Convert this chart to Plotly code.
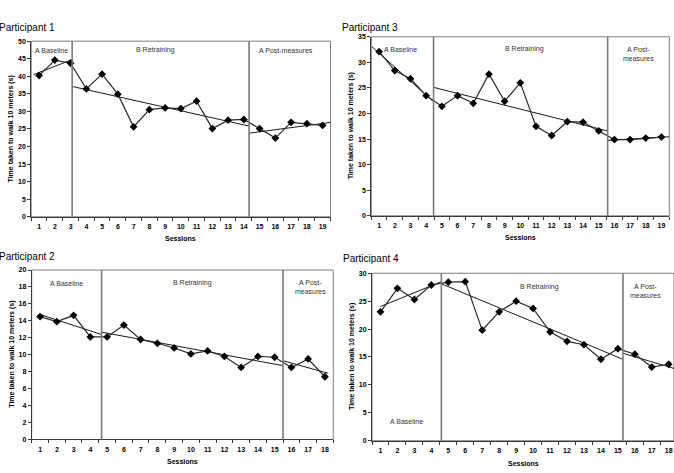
import numpy as np
import plotly.graph_objects as go

W, H = 674, 473

# ---------------- data ----------------
p1_sessions = list(range(1, 20))
p1_times = [40.2, 44.6, 43.7, 36.4, 40.6, 34.9, 25.6, 30.5, 31.0, 30.8,
            32.9, 25.1, 27.5, 27.7, 25.1, 22.4, 26.9, 26.5, 26.0]
p1_phase_end = [3, 14, 19]          # last session of each phase
p1_dividers = [3.1, 14.33]
p1_trend_span = [0.64, 19.57]

p3_sessions = list(range(1, 20))
p3_times = [32.1, 28.4, 26.8, 23.5, 21.4, 23.5, 22.0, 27.7, 22.4, 26.0,
            17.5, 15.7, 18.4, 18.3, 16.6, 14.9, 14.9, 15.2, 15.4]
p3_phase_end = [4, 15, 19]
p3_dividers = [4.47, 15.57]
p3_trend_span = [0.54, 19.5]

p2_sessions = list(range(1, 19))
p2_times = [14.5, 13.9, 14.65, 12.1, 12.1, 13.5, 11.8, 11.35, 10.8, 10.1,
            10.45, 9.8, 8.5, 9.8, 9.7, 8.5, 9.5, 7.4]
p2_phase_end = [4, 15, 18]
p2_dividers = [4.67, 15.5]
p2_trend_span = [1.1, 18.2]

p4_sessions = list(range(1, 19))
p4_times = [23.1, 27.3, 25.3, 27.9, 28.4, 28.5, 19.8, 23.1, 25.0, 23.7,
            19.5, 17.8, 17.2, 14.6, 16.5, 15.5, 13.2, 13.7]
p4_phase_end = [4, 15, 18]
p4_dividers = [4.59, 15.3]
p4_trend_span = [1.0, 18.5]

titles = ["Participant 1", "Participant 3", "Participant 2", "Participant 4"]
y_title = "Time taken to walk 10 meters (s)"
x_title = "Sessions"

FONT = "Liberation Sans, Arial, sans-serif"
AXIS = "#3a3a3a"


def px(x):
    return x / W


def py(y):
    return 1 - y / H


panels = [
    dict(s=p1_sessions, v=p1_times, ends=p1_phase_end, div=p1_dividers, span=p1_trend_span,
         box=(31.2, 37.7, 330.5, 216.0), xr=[0.5, 19.5], yr=[0, 50], dy=5,
         title=(-3, 24), ytitle_x=10.5, xtitle_y=238,
         labels=[("A Baseline", 51.7, 47), ("B Retraining", 155, 47),
                 ("A Post-measures", 285.7, 47)]),
    dict(s=p3_sessions, v=p3_times, ends=p3_phase_end, div=p3_dividers, span=p3_trend_span,
         box=(371.3, 33.3, 669.3, 215.0), xr=[0.5, 19.5], yr=[0, 35], dy=5,
         title=(340, 24), ytitle_x=351, xtitle_y=237.3,
         labels=[("A Baseline", 401, 45.7), ("B Retraining", 524.3, 45.7),
                 ("A Post-<br>measures", 638, 50.5)]),
    dict(s=p2_sessions, v=p2_times, ends=p2_phase_end, div=p2_dividers, span=p2_trend_span,
         box=(31.7, 270.0, 333.3, 442.0), xr=[0.5, 18.5], yr=[0, 20], dy=2,
         title=(-3, 256.7), ytitle_x=12, xtitle_y=464,
         labels=[("A Baseline", 66.7, 283.3), ("B Retraining", 192.7, 283.3),
                 ("A Post-<br>measures", 310, 287.3)]),
    dict(s=p4_sessions, v=p4_times, ends=p4_phase_end, div=p4_dividers, span=p4_trend_span,
         box=(372.0, 273.3, 674.0, 443.3), xr=[0.5, 18.31], yr=[0, 30], dy=5,
         title=(341, 258), ytitle_x=352, xtitle_y=466,
         labels=[("B Retraining", 539.7, 287.3), ("A Post-<br>measures", 645.3, 291.3),
                 ("A Baseline", 406, 423.3)]),
]

fig = go.Figure()
annotations = []
shapes = []

for i, p in enumerate(panels):
    k = "" if i == 0 else str(i + 1)
    xa, ya = "x" + k, "y" + k
    s = np.array(p["s"], dtype=float)
    v = np.array(p["v"], dtype=float)

    # phase trend lines (least-squares within each phase)
    starts = [1] + [e + 1 for e in p["ends"][:-1]]
    bounds = [p["span"][0]] + p["div"] + [p["span"][1]]
    for j, (a, b) in enumerate(zip(starts, p["ends"])):
        m = (s >= a) & (s <= b)
        slope, icpt = np.polyfit(s[m], v[m], 1)
        tx = np.array([bounds[j], bounds[j + 1]])
        fig.add_trace(go.Scatter(x=tx, y=slope * tx + icpt, xaxis=xa, yaxis=ya,
                                 mode="lines", line=dict(color="#1a1a1a", width=1),
                                 showlegend=False, hoverinfo="skip"))

    # data line with markers
    fig.add_trace(go.Scatter(x=s, y=v, xaxis=xa, yaxis=ya, mode="lines+markers",
                             line=dict(color="#2a2a2a", width=1.2),
                             marker=dict(symbol="diamond", size=6, color="black"),
                             showlegend=False, hoverinfo="skip"))

    x0, y0, x1, y1 = p["box"]
    n = len(p["s"])
    fig.update_layout(**{
        "xaxis" + k: dict(domain=[px(x0), px(x1)], anchor=ya, range=p["xr"],
                          tickmode="array", tickvals=p["s"], ticks="",
                          showline=True, linecolor=AXIS, linewidth=1,
                          showgrid=False, zeroline=False, fixedrange=True,
                          tickfont=dict(family=FONT, size=7, color="black", weight="bold"),
                          minor=dict(tickmode="array",
                                     tickvals=[q + 0.5 for q in range(0, n + 1)],
                                     ticks="outside", ticklen=3, tickcolor=AXIS,
                                     tickwidth=1, showgrid=False),
                          ticklabelstandoff=3),
        "yaxis" + k: dict(domain=[py(y1), py(y0)], anchor=xa, range=p["yr"],
                          dtick=p["dy"], tick0=0, ticks="outside", ticklen=3,
                          tickcolor=AXIS, showline=True, linecolor=AXIS,
                          linewidth=1, showgrid=False, zeroline=False,
                          fixedrange=True,
                          tickfont=dict(family=FONT, size=7, color="black", weight="bold")),
    })

    # plot-area frame
    shapes.append(dict(type="rect", xref=xa + " domain", yref=ya + " domain",
                       x0=0, x1=1, y0=0, y1=1, line=dict(color="#7f7f7f", width=1),
                       layer="below"))
    # phase change lines
    for d in p["div"]:
        shapes.append(dict(type="line", xref=xa, yref=ya + " domain", x0=d, x1=d,
                           y0=0, y1=1, line=dict(color="#7a7a7a", width=1.6)))

    # texts
    tx, ty = p["title"]
    annotations.append(dict(text=titles[i], x=px(tx), y=py(ty), xref="paper", yref="paper",
                            xanchor="left", yanchor="middle", showarrow=False,
                            font=dict(family=FONT, size=10, color="black")))
    annotations.append(dict(text=y_title, x=px(p["ytitle_x"]), y=(py(y0) + py(y1)) / 2,
                            xref="paper", yref="paper", textangle=-90, showarrow=False,
                            xanchor="center", yanchor="middle",
                            font=dict(family=FONT, size=7, color="black", weight="bold")))
    annotations.append(dict(text=x_title, x=(px(x0) + px(x1)) / 2, y=py(p["xtitle_y"]),
                            xref="paper", yref="paper", showarrow=False,
                            xanchor="center", yanchor="middle",
                            font=dict(family=FONT, size=7, color="black", weight="bold")))
    for (t, lx, ly) in p["labels"]:
        annotations.append(dict(text=t, x=px(lx), y=py(ly), xref="paper", yref="paper",
                                showarrow=False, xanchor="center", yanchor="middle",
                                font=dict(family=FONT, size=7, color="#333333")))

fig.update_layout(width=W, height=H, margin=dict(l=0, r=0, t=0, b=0),
                  paper_bgcolor="white", plot_bgcolor="white",
                  shapes=shapes, annotations=annotations, showlegend=False)

fig.write_html("out.html")
